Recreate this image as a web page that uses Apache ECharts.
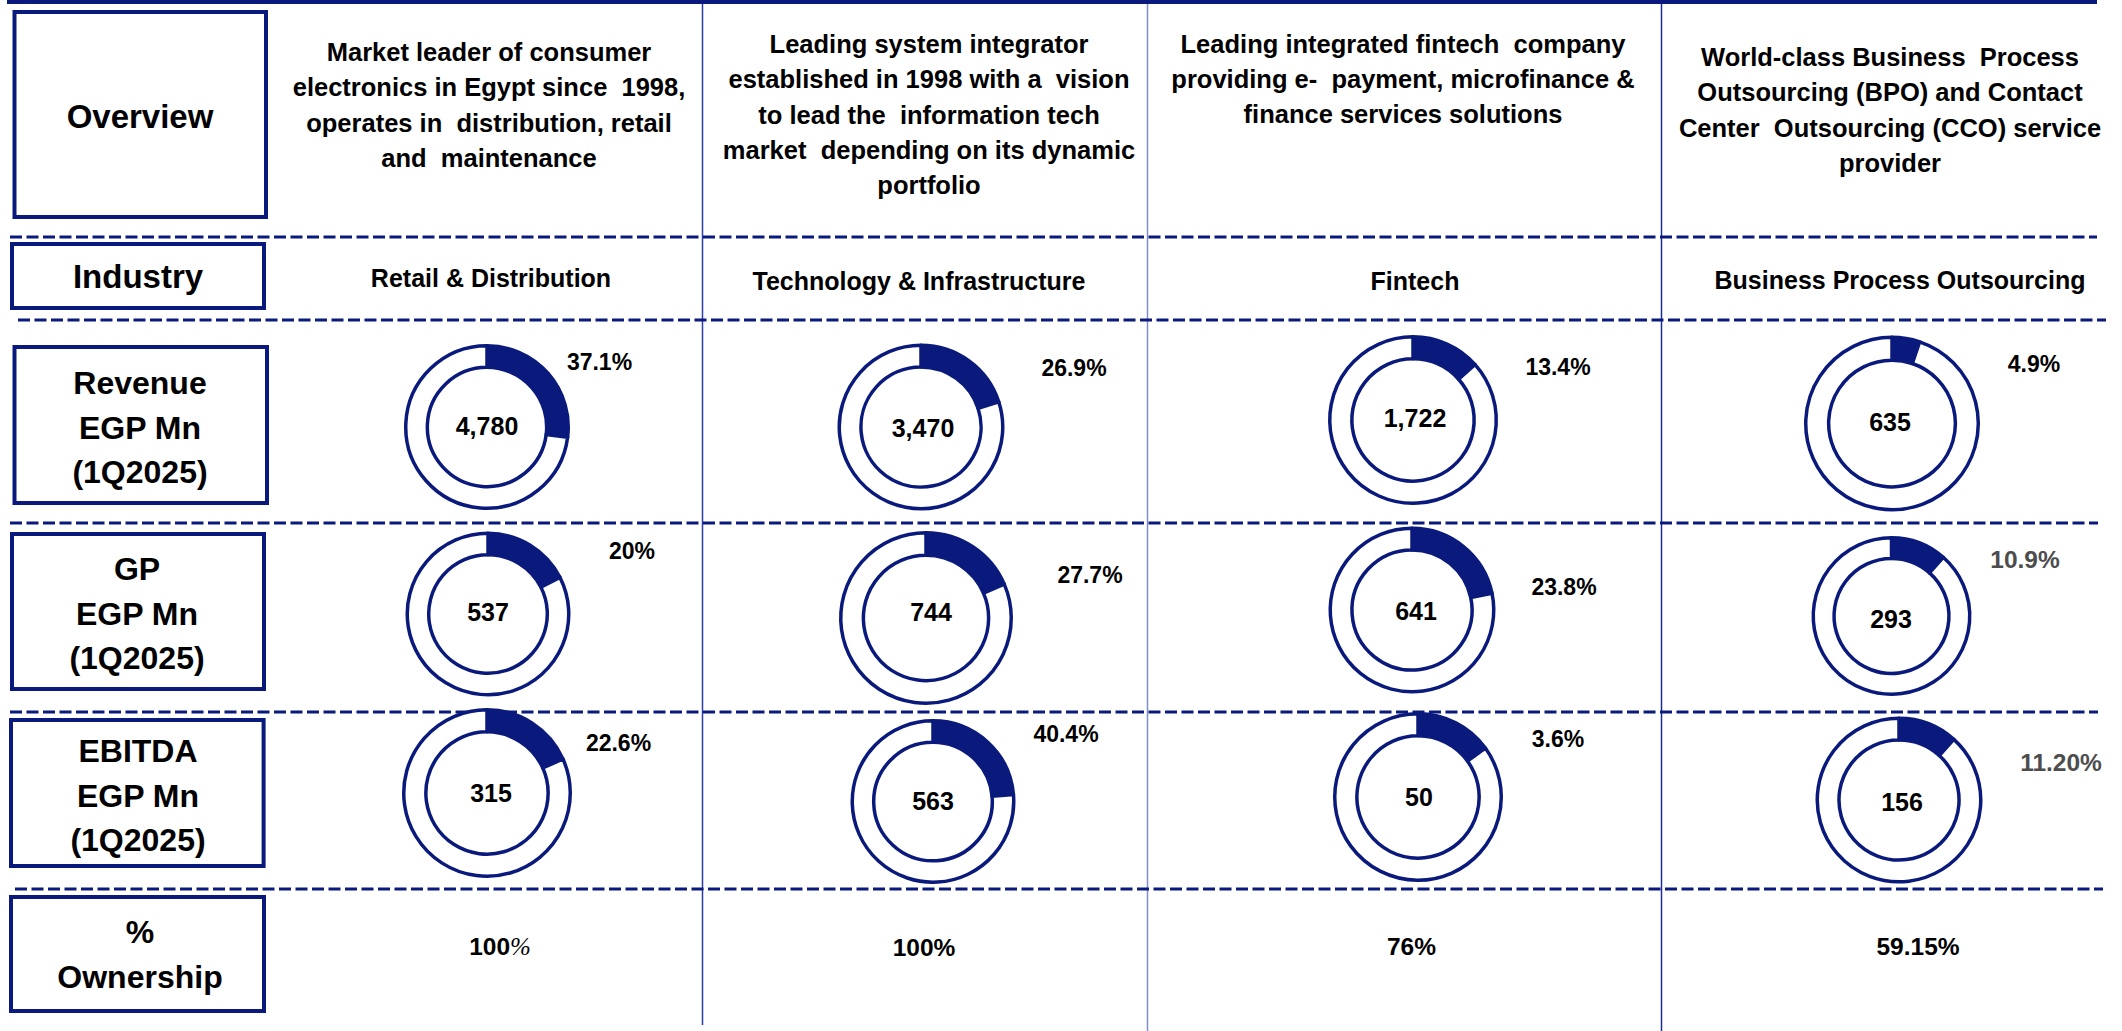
<!DOCTYPE html>
<html>
<head>
<meta charset="utf-8">
<script src="https://cdn.jsdelivr.net/npm/echarts@6/dist/echarts.min.js"></script>
<style>
html,body{margin:0;padding:0;background:#fff;}
#chart{width:2122px;height:1031px;}
</style>
</head>
<body>
<div id="chart"></div>
<script>
// ---------------- DATA ----------------
const overviewTexts = [
  'Market leader of consumer\nelectronics in Egypt since  1998,\noperates in  distribution, retail\nand  maintenance',
  'Leading system integrator\nestablished in 1998 with a  vision\nto lead the  information tech\nmarket  depending on its dynamic\nportfolio',
  'Leading integrated fintech  company\nproviding e-  payment, microfinance &\nfinance services solutions',
  'World-class Business  Process\nOutsourcing (BPO) and Contact\nCenter  Outsourcing (CCO) service\nprovider'
];
const industries = ['Retail & Distribution', 'Technology & Infrastructure', 'Fintech', 'Business Process Outsourcing'];
const rowHeaders = ['Overview', 'Industry', 'Revenue\nEGP Mn\n(1Q2025)', 'GP\nEGP Mn\n(1Q2025)', 'EBITDA\nEGP Mn\n(1Q2025)', '%\nOwnership'];

const revenue = [4780, 3470, 1722, 635];
const revenueShare = ['37.1%', '26.9%', '13.4%', '4.9%'];
const revenueRing = [27, 20, 13.4, 5.2];      // ring fill as drawn in the picture (%)

const grossProfit = [537, 744, 641, 293];
const grossProfitShare = ['20%', '27.7%', '23.8%', '10.9%'];
const grossProfitRing = [17.5, 18.5, 21.7, 11.5];

const ebitda = [315, 563, 50, 156];
const ebitdaShare = ['22.6%', '40.4%', '3.6%', '11.20%'];
const ebitdaRing = [18.3, 23.6, 15, 11.7];

const ownership = ['100%', '100%', '76%', '59.15%'];

// ---------------- LAYOUT / STYLE ----------------
const NAVY = '#0a1a7c';
const FONT = "'Liberation Sans', Arial, sans-serif";
const metricRows = [
  {values: revenue, shares: revenueShare, ring: revenueRing},
  {values: grossProfit, shares: grossProfitShare, ring: grossProfitRing},
  {values: ebitda, shares: ebitdaShare, ring: ebitdaRing}
];
const descLayout = [[489, 105], [929, 114.5], [1403, 79], [1890, 110]];
const industryLayout = [[491, 277.5], [919, 280.5], [1415, 280.5], [1900, 280]];
const donutLayout = [
  [[487, 427, 166], [921, 427, 167], [1413, 420, 170], [1892, 423.5, 176]],
  [[488, 614, 165], [926, 618, 174], [1412, 610, 167], [1891.5, 616, 160]],
  [[487, 793, 170], [933, 801.5, 165], [1418, 797, 170], [1899, 800, 167]]
];
const valueLabelLayout = [
  [[487, 426], [923, 428], [1415, 418], [1890, 422]],
  [[488, 612], [931, 612], [1416, 611], [1891, 619]],
  [[491, 793], [933, 801], [1419, 797], [1902, 802]]
];
const shareLabelLayout = [
  [[599.5, 362, 0], [1074, 368, 0], [1558, 367, 0], [2034, 364, 0]],
  [[632, 551, 0], [1090, 575, 0], [1564, 587, 0], [2025, 559, 1]],
  [[618.5, 743, 0], [1066, 734, 0], [1558, 739, 0], [2061, 762, 1]]
];
const ownershipLayout = [[500, 946], [924, 947], [1411.5, 946], [1918, 946]];
const headerBoxes = [
  // x, y, w, h, text cx, text cy, lineHeight, fontSize
  [14.5, 12, 251.5, 205, 140, 116, 44, 33],
  [12, 244, 252, 64, 138, 276.5, 44, 33],
  [14.5, 347, 252.5, 156, 140, 427.5, 44.5, 32],
  [12, 534, 252, 155, 137, 613.5, 44.5, 32],
  [11, 720, 252.6, 146, 138, 795.5, 44.5, 32],
  [11, 897, 253, 114, 140, 954.5, 45, 32]
];
const dashedLines = [[10, 2097, 237], [18, 2106, 320], [10, 2098, 523], [10, 2098, 712], [15, 2103, 889]];
const verticalLines = [[702.5, 4, 1025, '#2a3ca8'], [1147.5, 4, 1031, '#7f8ecb'], [1661.5, 4, 1031, '#1c2c98']];

// ---------------- BUILD ----------------
const graphics = [];
graphics.push({type: 'line', silent: true, shape: {x1: 7, y1: 2, x2: 2097, y2: 2}, style: {stroke: NAVY, lineWidth: 4}});
verticalLines.forEach(v => graphics.push({type: 'line', silent: true,
  shape: {x1: v[0], y1: v[1], x2: v[0], y2: v[2]}, style: {stroke: v[3], lineWidth: 1.5}}));
dashedLines.forEach(d => graphics.push({type: 'line', silent: true,
  shape: {x1: d[0], y1: d[2], x2: d[1], y2: d[2]}, style: {stroke: NAVY, lineWidth: 3, lineDash: [12, 4.5]}}));

headerBoxes.forEach((b, i) => {
  graphics.push({type: 'rect', silent: true, shape: {x: b[0], y: b[1], width: b[2], height: b[3]},
    style: {fill: '#fff', stroke: NAVY, lineWidth: 4}});
  graphics.push({type: 'text', silent: true, x: b[4], y: b[5],
    style: {text: rowHeaders[i], fontFamily: FONT, fontWeight: 'bold', fontSize: b[7], lineHeight: b[6],
      fill: '#000', align: 'center', verticalAlign: 'middle'}});
});

overviewTexts.forEach((t, i) => graphics.push({type: 'text', silent: true, x: descLayout[i][0], y: descLayout[i][1],
  style: {text: t, fontFamily: FONT, fontWeight: 'bold', fontSize: 25.5, lineHeight: 35.3,
    fill: '#000', align: 'center', verticalAlign: 'middle'}}));

industries.forEach((t, i) => graphics.push({type: 'text', silent: true, x: industryLayout[i][0], y: industryLayout[i][1],
  style: {text: t, fontFamily: FONT, fontWeight: 'bold', fontSize: 25, fill: '#000', align: 'center', verticalAlign: 'middle'}}));

const series = [];
metricRows.forEach((row, r) => {
  row.values.forEach((v, c) => {
    const [cx, cy, d] = donutLayout[r][c];
    const ro = d / 2 - 1.75;
    const ri = d * 0.74 / 2 - 1.75;
    series.push({
      type: 'pie', silent: true, animation: false,
      center: [cx, cy], radius: [ri, ro], startAngle: 90, clockwise: true,
      label: {show: false}, labelLine: {show: false},
      emphasis: {disabled: true},
      itemStyle: {borderColor: NAVY, borderWidth: 3.5},
      data: [
        {name: 'share', value: row.ring[c], itemStyle: {color: NAVY}},
        {name: 'rest', value: 100 - row.ring[c], itemStyle: {color: '#ffffff'}}
      ]
    });
    const [vx, vy] = valueLabelLayout[r][c];
    graphics.push({type: 'text', silent: true, x: vx, y: vy, z: 10,
      style: {text: v.toLocaleString('en-US'), fontFamily: FONT, fontWeight: 'bold', fontSize: 25,
        fill: '#000', align: 'center', verticalAlign: 'middle'}});
    const [px, py, gray] = shareLabelLayout[r][c];
    graphics.push({type: 'text', silent: true, x: px, y: py, z: 10,
      style: {text: row.shares[c], fontFamily: FONT, fontWeight: 'bold', fontSize: gray ? 24.5 : 23,
        fill: gray ? '#4d4d4d' : '#000', align: 'center', verticalAlign: 'middle'}});
  });
});

ownership.forEach((t, i) => {
  const [ox, oy] = ownershipLayout[i];
  if (i === 0) {
    const num = t.replace('%', '');
    graphics.push({type: 'text', silent: true, x: ox, y: oy,
      style: {text: '{a|' + num + '}{b|%}', fontFamily: FONT, align: 'center', verticalAlign: 'middle',
        rich: {
          a: {fontFamily: FONT, fontWeight: 'bold', fontSize: 24.5, fill: '#000'},
          b: {fontFamily: "'Liberation Serif', serif", fontStyle: 'italic', fontWeight: 'normal', fontSize: 25, fill: '#000'}
        }}});
  } else {
    graphics.push({type: 'text', silent: true, x: ox, y: oy,
      style: {text: t, fontFamily: FONT, fontWeight: 'bold', fontSize: 24.5, fill: '#000', align: 'center', verticalAlign: 'middle'}});
  }
});

const chart = echarts.init(document.getElementById('chart'), null, {renderer: 'svg', width: 2122, height: 1031});
chart.setOption({
  animation: false,
  backgroundColor: '#ffffff',
  series: series,
  graphic: {elements: graphics}
});
</script>
</body>
</html>
